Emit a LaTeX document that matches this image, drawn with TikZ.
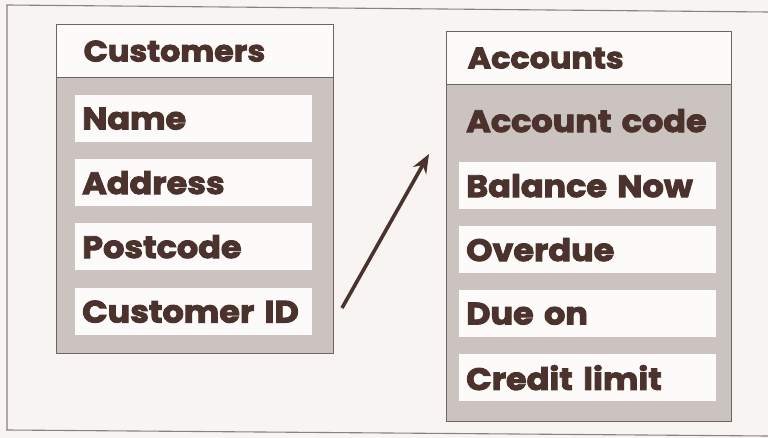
\documentclass[tikz,border=0pt]{standalone}
\usepackage{fontspec}
\setmainfont{Poppins}[BoldFeatures={FakeBold=3,FakeStretch=1.08}]
\usetikzlibrary{arrows.meta}
\definecolor{paper}{HTML}{F7F4F2}
\definecolor{stipple}{HTML}{CBC3C0}
\definecolor{fieldbg}{HTML}{FCFBFA}
\definecolor{ink}{HTML}{4B322C}
\definecolor{edge}{HTML}{6E6563}
\definecolor{framec}{HTML}{8A8280}
\tikzset{
  tablebox/.style={draw=edge, line width=1.3pt, fill=stipple, anchor=north west, inner sep=0pt},
  headbox/.style={draw=edge, line width=1.3pt, fill=fieldbg, anchor=north west, inner sep=0pt, minimum height=53pt, align=left, text=ink, font=\fontsize{29.5}{29.5}\selectfont\bfseries},
  fieldbox/.style={fill=fieldbg, anchor=north west, minimum height=47pt, inner xsep=7pt, inner ysep=0pt, align=left, text=ink, font=\fontsize{31}{31}\selectfont\bfseries},
  plainfield/.style={fieldbox, fill=none},
  framel/.style={draw=framec, line width=1.1pt},
  link/.style={draw=ink, line width=3.6pt, -{Stealth[length=19pt,width=15pt]}}
}
\begin{document}
\begin{tikzpicture}[x=1pt,y=-1pt]
\useasboundingbox (0,0) rectangle (768,438);
\fill[paper] (0,0) rectangle (768,438);
% outer frame
\draw[framel] (768,12) -- (7,5) -- (7,430) -- (768,436);
% Customers table
\node[tablebox, minimum width=277pt, minimum height=329pt] (cust) at (56,24) {};
\node[headbox, minimum width=277pt, text width=277pt] (custh) at (56,24) {\hspace*{27pt}Customers};
\node[fieldbox, text width=223pt] (name) at (75,95) {Name};
\node[fieldbox, text width=223pt] (address) at (75,159) {Address};
\node[fieldbox, text width=223pt] (postcode) at (75,223) {Postcode};
\node[fieldbox, text width=223pt] (custid) at (75,288) {Customer ID};
% Accounts table
\node[tablebox, minimum width=285pt, minimum height=390pt] (acct) at (446,31) {};
\node[headbox, minimum width=285pt, text width=285pt] (accth) at (446,31) {\hspace*{21pt}Accounts};
\node[plainfield, text width=243pt] (acode) at (459,97) {Account code};
\node[fieldbox, text width=243pt] (balance) at (459,162) {Balance Now};
\node[fieldbox, text width=243pt] (overdue) at (459,226) {Overdue};
\node[fieldbox, text width=243pt] (dueon) at (459,290) {Due on};
\node[fieldbox, text width=243pt] (credit) at (459,354) {Credit limit};
% arrow
\coordinate (from) at (342,308);
\coordinate (to) at (429,154);
\draw[link] (from) -- (to);
\end{tikzpicture}
\end{document}
